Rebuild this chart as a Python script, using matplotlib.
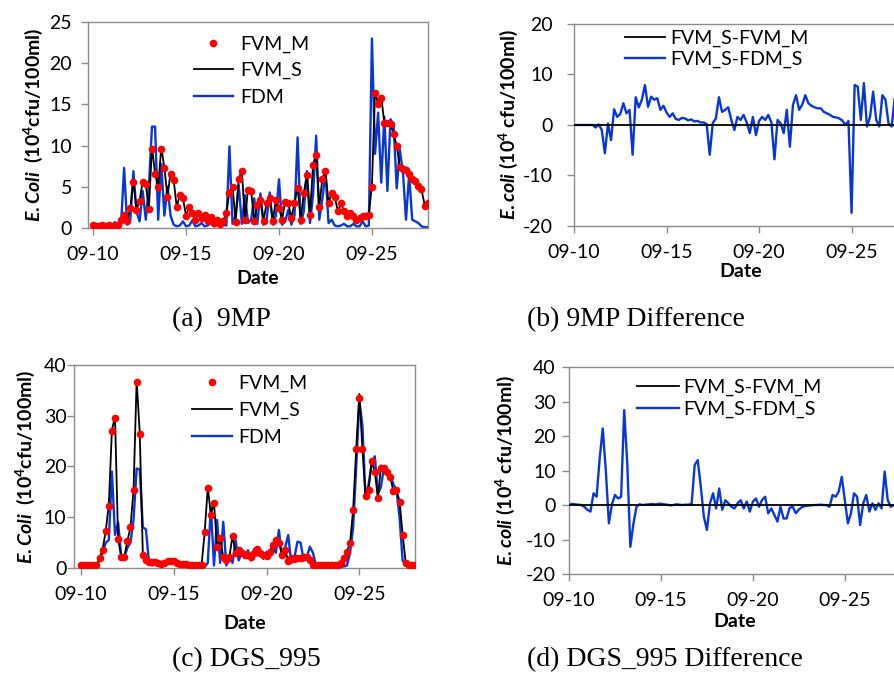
import numpy as np
import pandas as pd
import matplotlib
matplotlib.use("Agg")
import matplotlib.pyplot as plt
import matplotlib.dates as mdates
from matplotlib.ticker import FixedLocator

plt.rcParams['font.family'] = ['Lato', 'DejaVu Sans']
plt.rcParams['axes.unicode_minus'] = False
plt.rcParams['mathtext.fontset'] = 'custom'
plt.rcParams['mathtext.rm'] = 'Lato:weight=bold'
plt.rcParams['mathtext.it'] = 'Lato:style=italic:weight=bold'
plt.rcParams['mathtext.bf'] = 'Lato:weight=bold'

# ===================== data (4-hour steps from 09-10 00:00) =====================
start_date = "2013-09-10"
n_steps = 109
tick_dates = ["2013-09-10", "2013-09-15", "2013-09-20", "2013-09-25"]
end_date = "2013-09-28"

# 9MP
fvm_m_9mp = [0.3, 0.2, 0.2, 0.3, 0.2, 0.3, 0.2, 0.3, 0.4, 1.0, 1.6, 0.8,
             2.4, 5.6, 2.2, 3.3, 5.6, 5.3, 2.3, 9.6, 6.6, 5.0, 9.6, 7.3,
             3.8, 6.6, 5.8, 2.5, 4.0, 3.6, 1.5, 2.5, 1.8, 1.0, 1.8, 1.2,
             1.6, 0.8, 1.3, 0.6, 1.0, 0.5, 0.9, 1.8, 4.3, 5.0, 0.7, 5.9,
             6.9, 1.0, 4.6, 4.5, 0.9, 2.8, 3.4, 0.9, 3.0, 3.6, 0.9, 3.4,
             2.4, 1.0, 3.2, 3.0, 1.2, 3.0, 4.9, 1.0, 4.2, 6.4, 1.6, 7.6,
             8.9, 2.6, 5.9, 6.9, 3.0, 4.3, 3.8, 2.0, 3.0, 2.0, 1.5, 1.8,
             1.4, 1.0, 1.2, 1.4, 1.5, 1.6, 5.0, 16.4, 15.0, 15.8, 12.7, 12.8,
             12.6, 11.4, 10.0, 7.4, 7.2, 7.0, 6.6, 6.0, 5.7, 5.1, 4.7, 2.7,
             3.0]
fvm_s_9mp = [0.3, 0.2, 0.2, 0.3, 0.2, 0.3, 0.2, 0.3, 0.4, 1.0, 1.7, 0.8,
             2.4, 5.7, 2.2, 3.3, 5.7, 5.3, 2.3, 9.8, 6.6, 5.0, 9.8, 7.3,
             3.8, 6.7, 5.8, 2.5, 4.1, 3.6, 1.5, 2.5, 1.8, 1.0, 1.8, 1.2,
             1.6, 0.8, 1.3, 0.6, 1.0, 0.5, 0.9, 1.8, 4.4, 5.1, 0.7, 6.0,
             7.0, 1.0, 4.7, 4.5, 0.9, 2.8, 3.4, 0.9, 3.0, 3.7, 0.9, 3.4,
             2.4, 1.0, 3.2, 3.0, 1.2, 3.0, 5.0, 1.0, 4.2, 6.5, 1.6, 7.7,
             9.0, 2.6, 6.0, 7.0, 3.0, 4.3, 3.8, 2.0, 3.0, 2.0, 1.5, 1.8,
             1.4, 1.0, 1.2, 1.4, 1.5, 1.6, 5.2, 16.6, 15.0, 16.0, 12.7, 12.8,
             12.6, 11.4, 10.0, 7.4, 7.2, 7.0, 6.6, 6.0, 5.7, 5.1, 4.7, 2.8,
             2.9]
fdm_9mp = [0.1, 0.1, 0.1, 0.1, 0.1, 0.2, 0.3, 0.7, 0.2, 0.3, 7.3, 0.4,
           1.0, 6.9, 2.0, 0.8, 4.5, 1.0, 5.0, 12.3, 12.3, 1.0, 7.8, 1.5,
           5.0, 1.5, 0.4, 0.2, 0.3, 0.8, 0.2, 0.3, 0.9, 0.2, 0.3, 0.6,
           0.2, 0.3, 0.6, 0.2, 0.4, 0.2, 0.4, 0.3, 9.9, 0.5, 1.5, 5.2,
           0.5, 4.0, 0.6, 1.0, 3.6, 0.5, 4.2, 0.4, 1.0, 4.3, 0.4, 1.5,
           5.9, 0.4, 0.8, 2.2, 0.4, 1.5, 11.0, 0.5, 2.0, 6.9, 0.6, 4.0,
           11.2, 1.0, 3.5, 6.7, 0.6, 1.0, 0.3, 0.2, 0.3, 0.5, 0.2, 0.2,
           0.5, 0.2, 0.2, 0.8, 0.2, 0.3, 23.0, 9.0, 14.0, 5.5, 13.5, 4.5,
           13.2, 12.5, 4.8, 9.5, 6.8, 1.0, 6.5, 1.0, 0.8, 0.6, 0.2, 0.1,
           0.1]
diff_fdm_9mp = [0.0, 0.0, 0.0, 0.0, 0.0, 0.0, 0.0, -0.5, 0.1, -1.0, -5.6, 0.3,
                -3.0, 3.1, 1.6, 2.2, 4.3, 2.3, 3.0, -5.9, 5.5, 3.5, 5.0, 7.9,
                3.6, 5.6, 5.0, 5.3, 3.0, 3.8, 2.5, 1.6, 2.3, 1.2, 1.0, 1.4,
                1.3, 0.9, 1.1, 0.7, 0.8, 0.5, 0.5, 0.2, -5.9, 0.4, 1.3, 5.5,
                2.6, 3.0, 3.5, 1.0, -1.0, 1.6, 1.0, 2.0, 0.5, -1.6, 1.6, -2.0,
                0.8, 1.6, 1.0, 2.0, 0.5, -6.8, 1.0, 0.3, -1.6, 3.0, -4.3, 4.0,
                5.9, 3.0, 4.0, 5.9, 4.3, 3.8, 3.5, 3.3, 3.3, 2.6, 2.3, 2.0,
                1.6, 1.5, 1.3, 0.9, 0.0, 0.8, -17.4, 7.9, 7.6, 1.0, 8.3, -0.3,
                1.6, 6.6, 1.0, -0.3, 5.9, 5.0, 0.3, -0.3, 5.3, 2.0, 0.5, 0.3,
                0.2]

# DGS_995
fvm_m_dgs = [0.5, 0.5, 0.6, 0.5, 0.5, 0.6, 1.9, 3.6, 7.3, 12.3, 27.0, 29.6,
             5.7, 2.2, 2.2, 5.3, 8.0, 15.3, 36.6, 26.4, 2.6, 1.5, 1.2, 1.2,
             1.1, 0.9, 0.8, 1.0, 1.3, 1.4, 1.3, 1.0, 0.8, 0.7, 0.8, 0.6,
             0.5, 0.5, 0.6, 0.6, 7.0, 15.8, 10.5, 12.8, 4.1, 5.9, 2.2, 1.6,
             2.2, 6.3, 2.9, 3.6, 2.9, 2.5, 2.6, 2.2, 3.0, 3.7, 2.9, 2.5,
             2.4, 3.2, 4.5, 5.5, 5.0, 2.6, 3.6, 1.4, 1.9, 1.8, 1.9, 2.0,
             2.2, 2.1, 1.5, 0.6, 0.5, 0.5, 0.5, 0.5, 0.5, 0.5, 0.5, 0.6,
             1.0, 1.9, 3.2, 5.0, 11.4, 23.5, 33.5, 23.4, 14.1, 15.3, 21.0, 18.9,
             13.8, 19.8, 19.7, 19.0, 18.0, 15.1, 15.4, 13.1, 6.5, 1.0, 0.6, 0.5,
             0.5]
fvm_s_dgs = [0.5, 0.5, 0.6, 0.5, 0.5, 0.6, 1.9, 3.7, 7.3, 12.5, 27.2, 29.8,
             5.8, 2.2, 2.2, 5.3, 8.0, 15.5, 37.0, 26.6, 2.6, 1.5, 1.2, 1.2,
             1.1, 0.9, 0.8, 1.0, 1.3, 1.4, 1.3, 1.0, 0.8, 0.7, 0.8, 0.6,
             0.5, 0.5, 0.6, 0.6, 7.1, 15.9, 10.5, 12.9, 4.1, 5.9, 2.2, 1.6,
             2.2, 6.4, 2.9, 3.6, 2.9, 2.5, 2.6, 2.2, 3.0, 3.7, 2.9, 2.5,
             2.4, 3.2, 4.5, 5.5, 5.0, 2.6, 3.6, 1.4, 1.9, 1.8, 1.9, 2.0,
             2.2, 2.1, 1.5, 0.6, 0.5, 0.5, 0.5, 0.5, 0.5, 0.5, 0.5, 0.6,
             1.0, 1.9, 3.2, 5.0, 11.5, 23.6, 34.3, 23.5, 14.1, 15.3, 21.2, 19.0,
             13.8, 20.2, 19.8, 19.0, 18.0, 15.1, 15.4, 13.2, 6.6, 1.0, 0.6, 0.5,
             0.5]
fdm_dgs = [0.3, 0.3, 0.4, 0.3, 0.3, 0.5, 1.5, 3.0, 5.0, 5.5, 19.0, 6.5,
           9.0, 2.5, 2.0, 4.0, 5.0, 9.5, 19.6, 19.4, 8.0, 7.6, 1.0, 0.5,
           0.9, 0.8, 0.7, 0.9, 1.2, 1.3, 1.2, 0.9, 0.7, 0.6, 0.7, 0.5,
           0.4, 0.4, 0.5, 0.5, 0.2, 1.0, 12.0, 0.5, 9.5, 1.0, 9.1, 0.5,
           2.0, 1.0, 5.5, 1.5, 3.0, 2.0, 3.5, 1.5, 3.8, 2.5, 3.0, 1.8,
           3.2, 2.5, 4.0, 3.0, 7.5, 2.0, 4.0, 6.5, 1.0, 2.0, 5.2, 5.0,
           1.5, 2.0, 4.2, 3.0, 0.5, 0.3, 0.3, 0.3, 0.3, 0.3, 0.3, 0.3,
           0.2, 0.3, 0.5, 3.0, 8.0, 20.0, 33.0, 28.0, 14.0, 16.5, 20.5, 22.0,
           14.5, 16.0, 20.0, 19.0, 18.5, 16.5, 15.5, 10.0, 1.5, 0.5, 0.4, 0.4,
           0.4]
diff_fdm_dgs = [0.3, 0.3, 0.2, 0.1, 0.0, -0.5, -1.4, -1.9, 3.4, 2.4, 13.5, 22.2,
                10.1, -5.3, 0.2, 2.9, 1.9, 2.4, 27.5, 12.0, -12.1, -5.5, -0.5, 0.2,
                0.0, 0.1, 0.2, 0.3, 0.2, 0.3, 0.4, 0.2, 0.1, -0.1, 0.0, 0.2,
                0.1, 0.0, 0.1, 0.1, 0.3, 11.6, 13.0, 5.3, -3.4, -7.2, 0.5, 3.4,
                -1.0, 4.8, -1.4, 1.4, 0.5, -0.5, -1.0, 0.5, 1.4, -1.0, 1.0, -1.9,
                1.0, 1.9, -0.5, 1.5, 2.4, -2.4, -1.0, -2.9, -4.8, -0.5, -3.9, -3.9,
                -0.8, -0.5, -2.4, -1.3, -0.6, -0.3, -0.2, -0.1, 0.0, 0.0, 0.1, 0.0,
                0.0, -0.5, 2.9, 2.4, 3.9, 8.2, 1.4, -5.3, -2.4, 3.4, 2.4, -5.8,
                0.5, 2.9, -1.9, 0.5, -1.4, 0.5, -1.0, 9.7, 1.4, -0.5, 0.0, 0.0,
                0.0]

# FVM_S-FVM_M is flat zero over the whole period
diff_m_dates = ["2013-09-10", "2013-09-28"]
diff_m_values = [0.0, 0.0]

# ===================== style =====================
RED = '#ff0000'
BLUE = '#0a37d2'
GREY = '#8c8c8c'
FS = 14

times = pd.date_range(start_date, periods=n_steps, freq="4h")
diff_m_times = pd.to_datetime(diff_m_dates)
ticks = mdates.date2num(pd.to_datetime(tick_dates))


def style_axes(ax, x_left, ylim, yticks, ytick_pad, ylabel, ylabel_x, date_y):
    ax.set_xlim(pd.Timestamp(x_left), pd.Timestamp(end_date))
    ax.xaxis.set_major_locator(FixedLocator(ticks))
    ax.xaxis.set_major_formatter(mdates.DateFormatter('%m-%d'))
    ax.set_ylim(*ylim)
    ax.set_yticks(yticks)
    for sp in ax.spines.values():
        sp.set_color(GREY)
        sp.set_linewidth(1.0)
    ax.tick_params(axis='both', direction='out', length=5, width=1.0,
                   color=GREY, labelsize=FS, labelcolor='black')
    ax.tick_params(axis='x', pad=8)
    ax.tick_params(axis='y', pad=ytick_pad)
    ax.set_ylabel(ylabel, fontsize=FS, fontweight='bold', va='center')
    ax.yaxis.set_label_coords(ylabel_x, 0.5)
    ax.set_xlabel('Date', fontsize=FS, fontweight='bold', va='center')
    ax.xaxis.set_label_coords(0.5, date_y)


fig = plt.figure(figsize=(8.94, 6.85), dpi=100)

# ---------- (a) 9MP ----------
ax = fig.add_axes([0.0981, 0.6672, 0.3803, 0.3007])
l3, = ax.plot(times, fdm_9mp, color=BLUE, lw=1.7, zorder=2)
l2, = ax.plot(times, fvm_s_9mp, color='black', lw=1.3, zorder=3)
l1, = ax.plot(times, fvm_m_9mp, 'o', color=RED, ms=5.5, mew=0, zorder=4)
style_axes(ax, "2013-09-09 17:00", (0, 25), [0, 5, 10, 15, 20, 25], 6.3,
           r"$\mathit{E.Coli}$  (10$^{4}$cfu/100ml)", -0.161, -0.243)
ax.legend([l1, l2, l3], ['FVM_M', 'FVM_S', 'FDM'], loc='upper left',
          bbox_to_anchor=(0.3126, 0.935), frameon=False, fontsize=FS,
          borderpad=0, borderaxespad=0, handlelength=2.0, handletextpad=0.36,
          labelspacing=0.48, numpoints=1)

# ---------- (b) 9MP Difference ----------
ax = fig.add_axes([0.6421, 0.6701, 0.3725, 0.2949])
lb, = ax.plot(times, diff_fdm_9mp, color=BLUE, lw=1.7, zorder=2)
la, = ax.plot(diff_m_times, diff_m_values, color='black', lw=1.3, zorder=3)
style_axes(ax, "2013-09-10", (-20, 20), [-20, -10, 0, 10, 20], 10.3,
           r"$\mathit{E.coli}$ (10$^{4}$ cfu/100ml)", -0.198, -0.225)
ax.legend([la, lb], ['FVM_S-FVM_M', 'FVM_S-FDM_S'], loc='upper left',
          bbox_to_anchor=(0.153, 0.97), frameon=False, fontsize=FS,
          borderpad=0, borderaxespad=0, handlelength=2.05, handletextpad=0.29,
          labelspacing=0.2)

# ---------- (c) DGS_995 ----------
ax = fig.add_axes([0.0828, 0.1708, 0.3814, 0.2964])
l3, = ax.plot(times, fdm_dgs, color=BLUE, lw=1.7, zorder=2)
l2, = ax.plot(times, fvm_s_dgs, color='black', lw=1.3, zorder=3)
l1, = ax.plot(times, fvm_m_dgs, 'o', color=RED, ms=5.5, mew=0, zorder=4)
style_axes(ax, "2013-09-09 15:00", (0, 40), [0, 10, 20, 30, 40], 0.5,
           r"$\mathit{E.Coli}$  (10$^{4}$cfu/100ml)", -0.144, -0.271)
ax.legend([l1, l2, l3], ['FVM_M', 'FVM_S', 'FDM'], loc='upper left',
          bbox_to_anchor=(0.345, 0.95), frameon=False, fontsize=FS,
          borderpad=0, borderaxespad=0, handlelength=2.05, handletextpad=0.34,
          labelspacing=0.5, numpoints=1)

# ---------- (d) DGS_995 Difference ----------
ax = fig.add_axes([0.6365, 0.1620, 0.3702, 0.3022])
lb, = ax.plot(times, diff_fdm_dgs, color=BLUE, lw=1.7, zorder=2)
la, = ax.plot(diff_m_times, diff_m_values, color='black', lw=1.3, zorder=3)
style_axes(ax, "2013-09-10", (-20, 40), [-20, -10, 0, 10, 20, 30, 40], 4.5,
           r"$\mathit{E.coli}$ (10$^{4}$ cfu/100ml)", -0.193, -0.230)
ax.legend([la, lb], ['FVM_S-FVM_M', 'FVM_S-FDM_S'], loc='upper left',
          bbox_to_anchor=(0.206, 0.945), frameon=False, fontsize=FS,
          borderpad=0, borderaxespad=0, handlelength=2.16, handletextpad=0.2,
          labelspacing=0.25)

# ---------- captions ----------
cap = dict(family='Liberation Serif', fontsize=20, va='center', ha='left')
fig.text(172 / 894, 1 - 320 / 685, '(a)  9MP', **cap)
fig.text(527 / 894, 1 - 320 / 685, '(b) 9MP Difference', **cap)
fig.text(172 / 894, 1 - 660 / 685, '(c) DGS_995', **cap)
fig.text(527 / 894, 1 - 660 / 685, '(d) DGS_995 Difference', **cap)

fig.savefig("out.png", dpi=100)
